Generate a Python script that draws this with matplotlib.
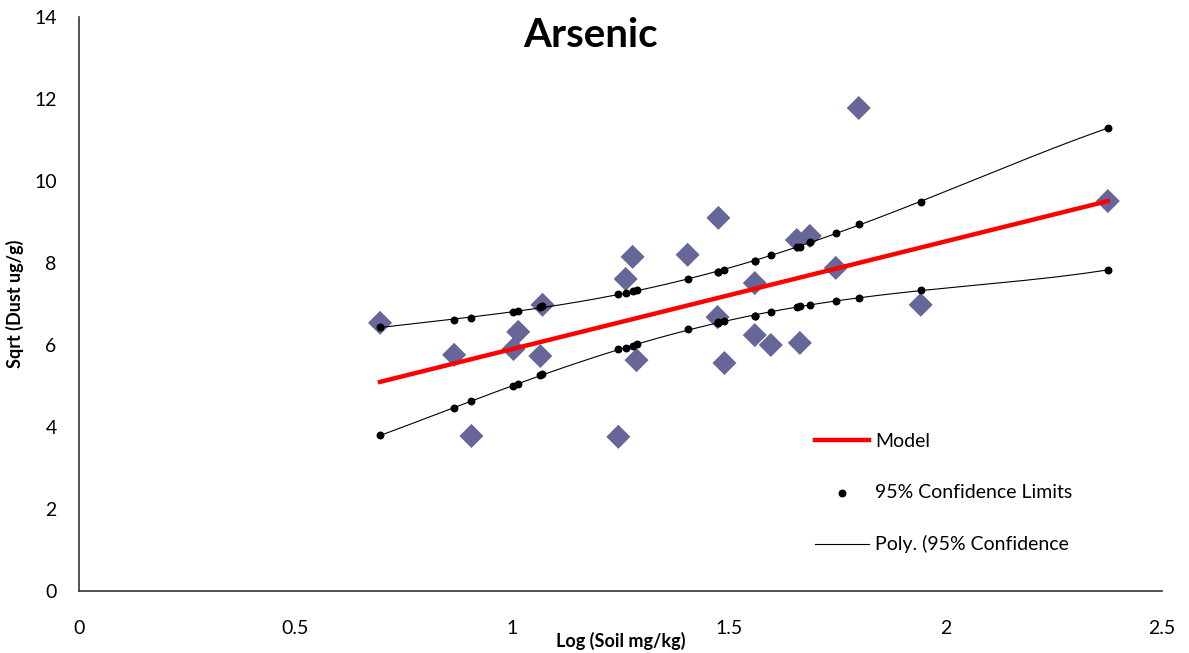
import matplotlib
matplotlib.use("Agg")
import matplotlib.pyplot as plt
import numpy as np

plt.rcParams['font.family'] = ['Lato', 'DejaVu Sans']

# log10 soil concentration vs sqrt of dust concentration
soil_log = [0.695, 0.866, 0.906, 1.003, 1.014, 1.065, 1.070, 1.245, 1.262,
            1.278, 1.287, 1.405, 1.474, 1.476, 1.490, 1.560, 1.560, 1.597,
            1.657, 1.664, 1.687, 1.747, 1.800, 1.943, 2.375]
dust_sqrt = [6.54, 5.76, 3.78, 5.90, 6.32, 5.73, 6.98, 3.76, 7.61,
             8.15, 5.63, 8.20, 6.68, 9.10, 5.56, 7.51, 6.24, 6.00,
             8.56, 6.05, 8.66, 7.88, 11.78, 6.98, 9.51]

# 95% confidence limits at each observation
ci_upper = [6.44, 6.61, 6.66, 6.80, 6.83, 6.92, 6.94, 7.24, 7.26,
            7.32, 7.34, 7.61, 7.78, 7.79, 7.83, 8.05, 8.05, 8.20,
            8.38, 8.40, 8.51, 8.73, 8.95, 9.49, 11.29]
ci_lower = [3.80, 4.46, 4.63, 5.00, 5.05, 5.26, 5.29, 5.90, 5.93,
            5.98, 6.02, 6.39, 6.54, 6.55, 6.59, 6.71, 6.71, 6.80,
            6.92, 6.94, 6.98, 7.07, 7.15, 7.34, 7.83]

# fitted regression line end points
model_x = [0.695, 2.375]
model_y = [5.10, 9.51]

fig = plt.figure(figsize=(11.89, 6.53), dpi=100)
ax = fig.add_axes([0.0664, 0.095, 0.9109, 0.879])

ax.scatter(soil_log, dust_sqrt, marker='D', s=150, color='#666699',
           edgecolors='none', zorder=2)
ax.plot(model_x, model_y, color='red', lw=3.2, label='Model', zorder=3)
ax.scatter(soil_log + soil_log, ci_upper + ci_lower, s=22, color='black',
           label='95% Confidence Limits', zorder=4)

# polynomial trendlines through the confidence limits
xs = np.linspace(min(soil_log), max(soil_log), 200)
for i, ci in enumerate([ci_upper, ci_lower]):
    coef = np.polyfit(soil_log, ci, 4)
    ax.plot(xs, np.polyval(coef, xs), color='black', lw=0.8, zorder=3,
            label='Poly. (95% Confidence' if i == 0 else None)

ax.set_xlim(0, 2.5)
ax.set_ylim(0, 14)
ax.set_xticks([0, 0.5, 1, 1.5, 2, 2.5])
ax.set_xticklabels(['0', '0.5', '1', '1.5', '2', '2.5'])
ax.set_yticks(range(0, 15, 2))
ax.tick_params(length=0, labelsize=14)
ax.tick_params(axis='x', pad=21)
ax.tick_params(axis='y', pad=16)
for s in ['top', 'right']:
    ax.spines[s].set_visible(False)
for s in ['left', 'bottom']:
    ax.spines[s].set_linewidth(1.2)
    ax.spines[s].set_color('#333333')

ax.set_xlabel('Log (Soil mg/kg)', fontsize=13, fontweight='bold', labelpad=-4)
ax.set_ylabel('Sqrt (Dust ug/g)', fontsize=13, fontweight='bold', labelpad=7)
fig.text(0.497, 0.946, 'Arsenic', fontsize=29, fontweight='bold',
         ha='center', va='center')

ax.legend(loc='lower left', bbox_to_anchor=(0.663, 0.035), frameon=False,
          fontsize=14, labelspacing=1.75, handlelength=2.8, handletextpad=0.3)

fig.savefig('out.png', dpi=100)
